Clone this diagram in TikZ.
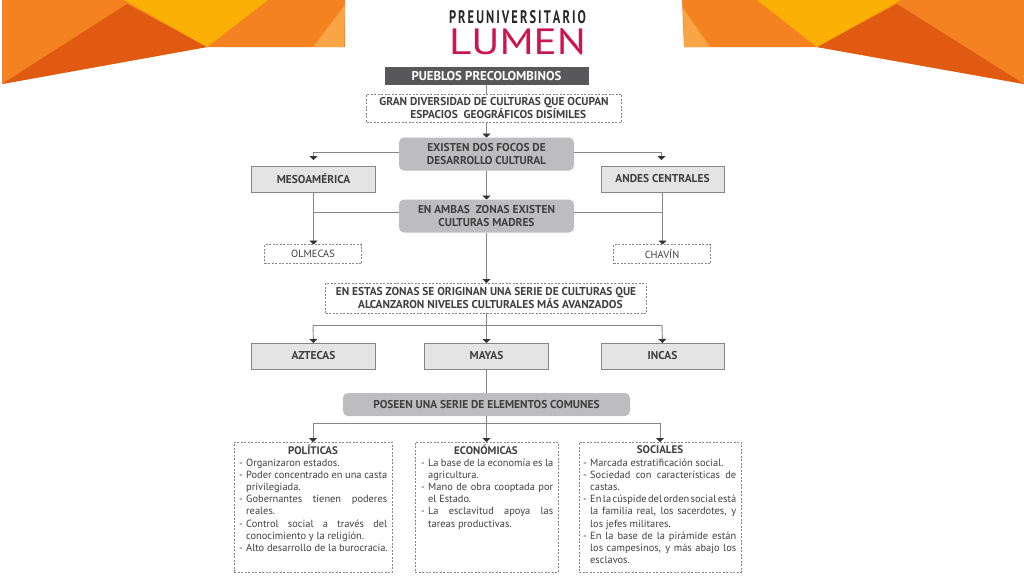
\documentclass[tikz,border=0pt]{standalone}
\usepackage{fontspec}
\usepackage{graphicx}
\setmainfont{PT Sans}
\usetikzlibrary{arrows.meta}
\definecolor{txt}{HTML}{3F3F3F}
\definecolor{ln}{HTML}{858585}
\definecolor{darkbar}{HTML}{58585A}
\definecolor{pill}{HTML}{BDBDBF}
\definecolor{lbox}{HTML}{E4E4E5}
\definecolor{ora}{HTML}{F58220}
\definecolor{oradk}{HTML}{E05A12}
\definecolor{yel}{HTML}{FAB005}
\definecolor{orali}{HTML}{F9A545}
\definecolor{lumen}{HTML}{C8174F}
\tikzset{
 x=1pt,y=-1pt,
 base/.style={inner sep=0pt,outer sep=0pt,align=center,text=txt,font=\bfseries\fontsize{11.4}{12.7}\selectfont},
 dashbox/.style={base,draw=ln,line width=0.6pt,dash pattern=on 2pt off 1.5pt,anchor=center},
 pillbox/.style={base,fill=pill,rounded corners=5pt,anchor=center},
 greybox/.style={base,fill=lbox,draw=ln,line width=0.8pt,anchor=center},
 conn/.style={draw=ln,line width=0.9pt},
 arr/.style={conn,-{Triangle[length=4pt,width=8pt,color=black!80]}},
 body/.style={text=txt,font=\fontsize{10.4}{12.2}\selectfont,inner sep=0pt,anchor=north west},
 head/.style={base,font=\bfseries\fontsize{11}{12}\selectfont,text=txt}
}
\newlength{\bw}
\newcommand{\dashline}[1]{\hbox to \bw{\hbox to 7pt{-\hss}\spaceskip=0pt plus 1fil minus 2pt\relax #1}}
\newcommand{\dashleft}[1]{\hbox to \bw{\hbox to 7pt{-\hss}#1\hss}}
\newcommand{\contline}[1]{\hbox to \bw{\hbox to 7pt{\hss}\spaceskip=0pt plus 1fil minus 2pt\relax #1}}
\newcommand{\contleft}[1]{\hbox to \bw{\hbox to 7pt{\hss}#1\hss}}
\begin{document}
\begin{tikzpicture}
\useasboundingbox (0,0) rectangle (1024,576);
\fill[white] (0,0) rectangle (1024,576);
% left banner
\fill[ora] (2,0) -- (345,0) -- (345,47) -- (207,47) -- (2,84) -- cycle;
\fill[oradk] (2,84) -- (127,4) -- (207,47) -- cycle;
\fill[yel] (124,0) -- (268,0) -- (207,47) -- cycle;
\fill[orali] (345,5) -- (344,47) -- (313,47) -- cycle;
% right banner
\fill[ora] (682,0) -- (1024,0) -- (1024,84) -- (817,47) -- (684,47) -- cycle;
\fill[oradk] (1024,84) -- (897,4) -- (817,47) -- cycle;
\fill[yel] (757,0) -- (901,0) -- (817,47) -- cycle;
\fill[orali] (683,8) -- (684,47) -- (710,47) -- cycle;
% logo
\node[inner sep=0pt,text=black!85] (logoA) at (517.5,17) {\resizebox{137pt}{13pt}{\bfseries P\,R\,E\,U\,N\,I\,V\,E\,R\,S\,I\,T\,A\,R\,I\,O}};
\node[inner sep=0pt,text=lumen] (logoB) at (517.5,42) {\resizebox{137pt}{26pt}{LUMEN}};
% nodes
\node[base,fill=darkbar,text=white,minimum width=204pt,minimum height=18pt,font=\bfseries\fontsize{12.8}{13}\selectfont] (title) at (486.5,76) {PUEBLOS PRECOLOMBINOS};
\node[dashbox,minimum width=255pt,minimum height=28pt] (gran) at (494,108) {GRAN DIVERSIDAD DE CULTURAS QUE OCUPAN\\\ \ \ ESPACIOS\ \ GEOGRÁFICOS DISÍMILES};
\node[pillbox,minimum width=175pt,minimum height=33pt] (focos) at (486.5,154) {EXISTEN DOS FOCOS DE\\DESARROLLO CULTURAL};
\node[greybox,minimum width=124pt,minimum height=26pt] (meso) at (313.5,179) {MESOAMÉRICA};
\node[greybox,minimum width=123pt,minimum height=26pt] (andes) at (662.5,179) {ANDES CENTRALES};
\node[pillbox,minimum width=175pt,minimum height=33pt] (ambas) at (486.5,216) {EN AMBAS\ \ ZONAS EXISTEN\\CULTURAS MADRES};
\node[dashbox,minimum width=97pt,minimum height=19pt,font=\fontsize{10.4}{11}\selectfont] (olm) at (313,254) {OLMECAS};
\node[dashbox,minimum width=97pt,minimum height=19pt,font=\fontsize{10.4}{11}\selectfont] (cha) at (662,254) {CHAVÍN};
\node[dashbox,minimum width=321pt,minimum height=30pt] (zonas) at (486,298) {EN ESTAS ZONAS SE ORIGINAN UNA SERIE DE CULTURAS QUE\\\ \ \ ALCANZARON NIVELES CULTURALES MÁS AVANZADOS};
\node[greybox,minimum width=124pt,minimum height=26pt] (azt) at (313.5,356) {AZTECAS};
\node[greybox,minimum width=124pt,minimum height=26pt] (may) at (486.5,356) {MAYAS};
\node[greybox,minimum width=123pt,minimum height=26pt] (inc) at (662.5,356) {INCAS};
\node[pillbox,minimum width=287pt,minimum height=23pt] (comun) at (486.5,404.5) {POSEEN UNA SERIE DE ELEMENTOS COMUNES};
\node[dashbox,minimum width=158pt,minimum height=130pt] (pol) at (313,507) {};
\node[dashbox,minimum width=143pt,minimum height=130pt] (eco) at (486.5,507) {};
\node[dashbox,minimum width=162pt,minimum height=130pt] (soc) at (660,507) {};
\node[head] (polh) at (313,450) {POLÍTICAS};
\node[head] (ecoh) at (486,450) {ECONÓMICAS};
\node[head] (soch) at (660,450) {SOCIALES};
\node[body] (polb) at (239,458.5) {\setlength{\bw}{148pt}\vbox{%
\dashleft{Organizaron estados.}
\dashline{Poder concentrado en una casta}
\contleft{privilegiada.}
\dashline{Gobernantes tienen poderes}
\contleft{reales.}
\dashline{Control social a través del}
\contleft{conocimiento y la religión.}
\dashleft{Alto desarrollo de la burocracia.}}};
\node[body] (ecob) at (421,458.5) {\setlength{\bw}{132pt}\vbox{%
\dashline{La base de la economía es la}
\contleft{agricultura.}
\dashline{Mano de obra cooptada por}
\contleft{el Estado.}
\dashline{La esclavitud apoya las}
\contleft{tareas productivas.}}};
\node[body] (socb) at (583,458.5) {\setlength{\bw}{153pt}\vbox{%
\dashleft{Marcada estratificación social.}
\dashline{Sociedad con características de}
\contleft{castas.}
\dashline{En la cúspide del orden social está}
\contline{la familia real, los sacerdotes, y}
\contleft{los jefes militares.}
\dashline{En la base de la pirámide están}
\contline{los campesinos, y más abajo los}
\contleft{esclavos.}}};
% connectors
\coordinate (j1) at (313.5,152);
\coordinate (j2) at (661.5,152);
\coordinate (k1) at (313.5,212);
\coordinate (k2) at (662,212);
\coordinate (j3) at (486.5,325);
\coordinate (j4) at (313,325);
\coordinate (j5) at (662,325);
\coordinate (j6) at (486.5,423);
\coordinate (j7) at (313,423);
\coordinate (j8) at (660,423);
\draw[conn] (title) -- (gran.north -| title);
\draw[arr] (gran.south -| title) -- (focos);
\draw[arr] (j1 -| focos.west) -- (j1) -- ++(0,8);
\draw[arr] (j2 -| focos.east) -- (j2) -- ++(0,8);
\draw[arr] (focos) -- (ambas);
\draw[conn] (k1 -| ambas.west) -- (k1);
\draw[conn] (k2 -| ambas.east) -- (k2);
\draw[arr] (meso.south) -- (olm.north -| meso);
\draw[arr] (andes.south) -- (cha.north -| andes);
\draw[arr] (ambas) -- (zonas.north -| ambas);
\draw[conn] (zonas.south -| j3) -- (j3);
\draw[conn] (j4) -- (j5);
\draw[arr] (j4) -- (azt.north);
\draw[arr] (j3) -- (may.north);
\draw[arr] (j5) -- (inc.north);
\draw[conn] (may.south) -- (comun.north -| may);
\draw[conn] (comun.south -| j6) -- (j6);
\draw[conn] (j7) -- (j8);
\draw[arr] (j7) -- (pol.north);
\draw[arr] (j6) -- (eco.north);
\draw[arr] (j8) -- (soc.north);
\end{tikzpicture}
\end{document}
